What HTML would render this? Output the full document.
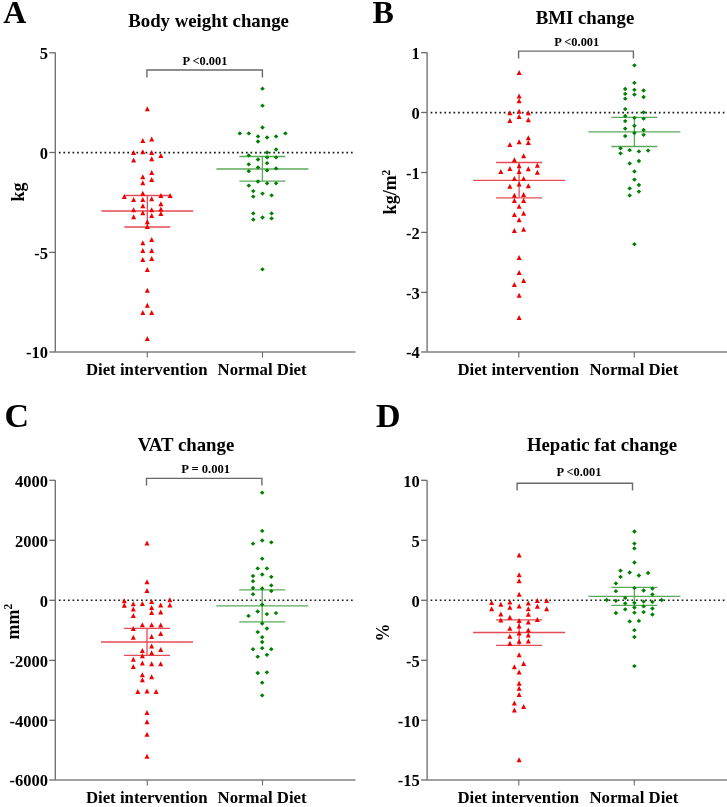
<!DOCTYPE html>
<html><head><meta charset="utf-8"><style>
html,body{margin:0;padding:0;background:#fff;}
svg{display:block;will-change:transform;}
text{font-family:"Liberation Serif", serif;font-weight:bold;fill:#000;}
</style></head><body>
<svg width="727" height="807" viewBox="0 0 727 807">
<rect width="727" height="807" fill="#fff"/>
<text x="3.2" y="23" font-size="32" text-anchor="start" >A</text>
<text x="208.6" y="26.7" font-size="18.8" text-anchor="middle" >Body weight change</text>
<line x1="55.3" y1="52.5" x2="55.3" y2="352" stroke="#6a6a6a" stroke-width="1.3"/>
<line x1="49.3" y1="52.8" x2="55.3" y2="52.8" stroke="#6a6a6a" stroke-width="1.3"/>
<text x="47.9" y="59.099999999999994" font-size="16.5" text-anchor="end" >5</text>
<line x1="49.3" y1="152.5" x2="55.3" y2="152.5" stroke="#6a6a6a" stroke-width="1.3"/>
<text x="47.9" y="158.8" font-size="16.5" text-anchor="end" >0</text>
<line x1="49.3" y1="252.4" x2="55.3" y2="252.4" stroke="#6a6a6a" stroke-width="1.3"/>
<text x="47.9" y="258.7" font-size="16.5" text-anchor="end" >-5</text>
<line x1="49.3" y1="352" x2="55.3" y2="352" stroke="#6a6a6a" stroke-width="1.3"/>
<text x="47.9" y="358.3" font-size="16.5" text-anchor="end" >-10</text>
<line x1="54.699999999999996" y1="352" x2="355.5" y2="352" stroke="#808080" stroke-width="1.5"/>
<line x1="147.3" y1="352" x2="147.3" y2="357.5" stroke="#6a6a6a" stroke-width="1.1"/>
<line x1="262.5" y1="352" x2="262.5" y2="357.5" stroke="#6a6a6a" stroke-width="1.1"/>
<text x="146.70000000000002" y="375" font-size="16.8" text-anchor="middle" >Diet intervention</text>
<text x="262.1" y="375" font-size="16.8" text-anchor="middle" >Normal Diet</text>
<line x1="58.849999999999994" y1="152.6" x2="355.5" y2="152.6" stroke="#1a1a1a" stroke-width="1.6" stroke-dasharray="1.7 2.864"/>
<text transform="translate(23.6,192) rotate(-90)" font-size="18" text-anchor="middle">kg</text>
<path d="M146.9 77.6 V69.95 H262.4 V77.6" fill="none" stroke="#6a6a6a" stroke-width="1.4"/>
<text x="204.95" y="65.2" font-size="12.4" text-anchor="middle" >P &lt;0.001</text>
<g stroke="#e44b55" stroke-width="1.3" fill="none"><line x1="101.30000000000001" y1="211.0" x2="193.3" y2="211.0"/><line x1="124.30000000000001" y1="195.5" x2="170.3" y2="195.5"/><line x1="124.30000000000001" y1="227.0" x2="170.3" y2="227.0"/><line x1="147.3" y1="195.5" x2="147.3" y2="227.0"/></g>
<g stroke="#5aaa5a" stroke-width="1.3" fill="none"><line x1="216.39999999999998" y1="169.0" x2="308.4" y2="169.0"/><line x1="239.39999999999998" y1="156.5" x2="285.4" y2="156.5"/><line x1="239.39999999999998" y1="181.1" x2="285.4" y2="181.1"/><line x1="262.4" y1="156.5" x2="262.4" y2="181.1"/></g>
<path d="M144.80 111.30h5l-2.5-5z" fill="#f00000"/>
<path d="M140.30 143.10h5l-2.5-5z" fill="#f00000"/>
<path d="M149.20 141.50h5l-2.5-5z" fill="#f00000"/>
<path d="M131.10 155.10h5l-2.5-5z" fill="#f00000"/>
<path d="M140.30 154.30h5l-2.5-5z" fill="#f00000"/>
<path d="M149.20 155.10h5l-2.5-5z" fill="#f00000"/>
<path d="M158.40 158.10h5l-2.5-5z" fill="#f00000"/>
<path d="M131.10 162.40h5l-2.5-5z" fill="#f00000"/>
<path d="M149.20 161.30h5l-2.5-5z" fill="#f00000"/>
<path d="M149.20 175.00h5l-2.5-5z" fill="#f00000"/>
<path d="M140.30 179.20h5l-2.5-5z" fill="#f00000"/>
<path d="M149.20 181.90h5l-2.5-5z" fill="#f00000"/>
<path d="M140.30 185.20h5l-2.5-5z" fill="#f00000"/>
<path d="M140.30 195.70h5l-2.5-5z" fill="#f00000"/>
<path d="M121.80 199.10h5l-2.5-5z" fill="#f00000"/>
<path d="M158.40 197.90h5l-2.5-5z" fill="#f00000"/>
<path d="M167.70 198.00h5l-2.5-5z" fill="#f00000"/>
<path d="M131.10 202.10h5l-2.5-5z" fill="#f00000"/>
<path d="M140.30 202.10h5l-2.5-5z" fill="#f00000"/>
<path d="M149.20 201.20h5l-2.5-5z" fill="#f00000"/>
<path d="M158.40 206.20h5l-2.5-5z" fill="#f00000"/>
<path d="M140.30 208.30h5l-2.5-5z" fill="#f00000"/>
<path d="M131.10 212.20h5l-2.5-5z" fill="#f00000"/>
<path d="M149.20 212.20h5l-2.5-5z" fill="#f00000"/>
<path d="M158.40 211.50h5l-2.5-5z" fill="#f00000"/>
<path d="M140.30 215.20h5l-2.5-5z" fill="#f00000"/>
<path d="M158.40 216.00h5l-2.5-5z" fill="#f00000"/>
<path d="M131.10 219.30h5l-2.5-5z" fill="#f00000"/>
<path d="M149.20 217.90h5l-2.5-5z" fill="#f00000"/>
<path d="M144.80 224.30h5l-2.5-5z" fill="#f00000"/>
<path d="M144.80 228.90h5l-2.5-5z" fill="#f00000"/>
<path d="M149.20 242.10h5l-2.5-5z" fill="#f00000"/>
<path d="M140.30 245.20h5l-2.5-5z" fill="#f00000"/>
<path d="M140.30 253.10h5l-2.5-5z" fill="#f00000"/>
<path d="M149.20 253.10h5l-2.5-5z" fill="#f00000"/>
<path d="M140.30 262.00h5l-2.5-5z" fill="#f00000"/>
<path d="M149.20 261.00h5l-2.5-5z" fill="#f00000"/>
<path d="M144.80 272.10h5l-2.5-5z" fill="#f00000"/>
<path d="M144.80 292.80h5l-2.5-5z" fill="#f00000"/>
<path d="M144.80 307.70h5l-2.5-5z" fill="#f00000"/>
<path d="M140.30 315.10h5l-2.5-5z" fill="#f00000"/>
<path d="M149.20 315.10h5l-2.5-5z" fill="#f00000"/>
<path d="M144.80 341.00h5l-2.5-5z" fill="#f00000"/>
<path d="M262.50 86.55l2.3 2.15l-2.3 2.15l-2.3-2.15z" fill="#007f00"/>
<path d="M262.50 103.55l2.3 2.15l-2.3 2.15l-2.3-2.15z" fill="#007f00"/>
<path d="M262.50 125.35l2.3 2.15l-2.3 2.15l-2.3-2.15z" fill="#007f00"/>
<path d="M239.80 131.25l2.3 2.15l-2.3 2.15l-2.3-2.15z" fill="#007f00"/>
<path d="M248.80 131.25l2.3 2.15l-2.3 2.15l-2.3-2.15z" fill="#007f00"/>
<path d="M285.40 131.25l2.3 2.15l-2.3 2.15l-2.3-2.15z" fill="#007f00"/>
<path d="M258.00 134.25l2.3 2.15l-2.3 2.15l-2.3-2.15z" fill="#007f00"/>
<path d="M267.10 135.35l2.3 2.15l-2.3 2.15l-2.3-2.15z" fill="#007f00"/>
<path d="M276.10 134.25l2.3 2.15l-2.3 2.15l-2.3-2.15z" fill="#007f00"/>
<path d="M258.00 139.35l2.3 2.15l-2.3 2.15l-2.3-2.15z" fill="#007f00"/>
<path d="M276.10 147.35l2.3 2.15l-2.3 2.15l-2.3-2.15z" fill="#007f00"/>
<path d="M267.10 150.35l2.3 2.15l-2.3 2.15l-2.3-2.15z" fill="#007f00"/>
<path d="M248.80 153.25l2.3 2.15l-2.3 2.15l-2.3-2.15z" fill="#007f00"/>
<path d="M267.10 155.25l2.3 2.15l-2.3 2.15l-2.3-2.15z" fill="#007f00"/>
<path d="M276.10 155.25l2.3 2.15l-2.3 2.15l-2.3-2.15z" fill="#007f00"/>
<path d="M258.00 157.35l2.3 2.15l-2.3 2.15l-2.3-2.15z" fill="#007f00"/>
<path d="M248.80 162.15l2.3 2.15l-2.3 2.15l-2.3-2.15z" fill="#007f00"/>
<path d="M267.10 161.05l2.3 2.15l-2.3 2.15l-2.3-2.15z" fill="#007f00"/>
<path d="M258.00 165.25l2.3 2.15l-2.3 2.15l-2.3-2.15z" fill="#007f00"/>
<path d="M276.10 166.25l2.3 2.15l-2.3 2.15l-2.3-2.15z" fill="#007f00"/>
<path d="M248.80 169.05l2.3 2.15l-2.3 2.15l-2.3-2.15z" fill="#007f00"/>
<path d="M267.10 168.25l2.3 2.15l-2.3 2.15l-2.3-2.15z" fill="#007f00"/>
<path d="M258.00 179.35l2.3 2.15l-2.3 2.15l-2.3-2.15z" fill="#007f00"/>
<path d="M248.80 183.45l2.3 2.15l-2.3 2.15l-2.3-2.15z" fill="#007f00"/>
<path d="M267.10 181.15l2.3 2.15l-2.3 2.15l-2.3-2.15z" fill="#007f00"/>
<path d="M276.10 181.15l2.3 2.15l-2.3 2.15l-2.3-2.15z" fill="#007f00"/>
<path d="M253.30 188.95l2.3 2.15l-2.3 2.15l-2.3-2.15z" fill="#007f00"/>
<path d="M262.50 191.45l2.3 2.15l-2.3 2.15l-2.3-2.15z" fill="#007f00"/>
<path d="M253.30 194.45l2.3 2.15l-2.3 2.15l-2.3-2.15z" fill="#007f00"/>
<path d="M271.60 193.15l2.3 2.15l-2.3 2.15l-2.3-2.15z" fill="#007f00"/>
<path d="M253.30 211.25l2.3 2.15l-2.3 2.15l-2.3-2.15z" fill="#007f00"/>
<path d="M271.60 211.25l2.3 2.15l-2.3 2.15l-2.3-2.15z" fill="#007f00"/>
<path d="M262.50 215.35l2.3 2.15l-2.3 2.15l-2.3-2.15z" fill="#007f00"/>
<path d="M253.30 217.45l2.3 2.15l-2.3 2.15l-2.3-2.15z" fill="#007f00"/>
<path d="M271.60 216.25l2.3 2.15l-2.3 2.15l-2.3-2.15z" fill="#007f00"/>
<path d="M262.50 267.15l2.3 2.15l-2.3 2.15l-2.3-2.15z" fill="#007f00"/>
<text x="372.5" y="23" font-size="32" text-anchor="start" >B</text>
<text x="585" y="24.3" font-size="18.8" text-anchor="middle" >BMI change</text>
<line x1="427.1" y1="52.5" x2="427.1" y2="352" stroke="#6a6a6a" stroke-width="1.3"/>
<line x1="421.1" y1="52.7" x2="427.1" y2="52.7" stroke="#6a6a6a" stroke-width="1.3"/>
<text x="419.70000000000005" y="59.0" font-size="16.5" text-anchor="end" >1</text>
<line x1="421.1" y1="112.5" x2="427.1" y2="112.5" stroke="#6a6a6a" stroke-width="1.3"/>
<text x="419.70000000000005" y="118.8" font-size="16.5" text-anchor="end" >0</text>
<line x1="421.1" y1="172.5" x2="427.1" y2="172.5" stroke="#6a6a6a" stroke-width="1.3"/>
<text x="419.70000000000005" y="178.8" font-size="16.5" text-anchor="end" >-1</text>
<line x1="421.1" y1="232.4" x2="427.1" y2="232.4" stroke="#6a6a6a" stroke-width="1.3"/>
<text x="419.70000000000005" y="238.70000000000002" font-size="16.5" text-anchor="end" >-2</text>
<line x1="421.1" y1="292.4" x2="427.1" y2="292.4" stroke="#6a6a6a" stroke-width="1.3"/>
<text x="419.70000000000005" y="298.7" font-size="16.5" text-anchor="end" >-3</text>
<line x1="421.1" y1="352" x2="427.1" y2="352" stroke="#6a6a6a" stroke-width="1.3"/>
<text x="419.70000000000005" y="358.3" font-size="16.5" text-anchor="end" >-4</text>
<line x1="426.5" y1="352" x2="727" y2="352" stroke="#808080" stroke-width="1.5"/>
<line x1="518.8" y1="352" x2="518.8" y2="357.5" stroke="#6a6a6a" stroke-width="1.1"/>
<line x1="634.3" y1="352" x2="634.3" y2="357.5" stroke="#6a6a6a" stroke-width="1.1"/>
<text x="518.1999999999999" y="375" font-size="16.8" text-anchor="middle" >Diet intervention</text>
<text x="633.9" y="375" font-size="16.8" text-anchor="middle" >Normal Diet</text>
<line x1="430.65000000000003" y1="112.6" x2="727" y2="112.6" stroke="#1a1a1a" stroke-width="1.6" stroke-dasharray="1.7 2.864"/>
<text transform="translate(396.3,192) rotate(-90)" font-size="18" text-anchor="middle">kg/m<tspan font-size="11.5" dy="-6.6">2</tspan></text>
<path d="M518.6 58.6 V51.1 H633.4 V58.6" fill="none" stroke="#6a6a6a" stroke-width="1.4"/>
<text x="576.8" y="46.1" font-size="12.4" text-anchor="middle" >P &lt;0.001</text>
<g stroke="#e44b55" stroke-width="1.3" fill="none"><line x1="473.1" y1="180.4" x2="565.1" y2="180.4"/><line x1="496.1" y1="162.5" x2="542.1" y2="162.5"/><line x1="496.1" y1="197.8" x2="542.1" y2="197.8"/><line x1="519.1" y1="162.5" x2="519.1" y2="197.8"/></g>
<g stroke="#5aaa5a" stroke-width="1.3" fill="none"><line x1="588.4" y1="131.9" x2="680.4" y2="131.9"/><line x1="611.4" y1="117.4" x2="657.4" y2="117.4"/><line x1="611.4" y1="146.5" x2="657.4" y2="146.5"/><line x1="634.4" y1="117.4" x2="634.4" y2="146.5"/></g>
<path d="M516.60 75.00h5l-2.5-5z" fill="#f00000"/>
<path d="M516.60 98.40h5l-2.5-5z" fill="#f00000"/>
<path d="M516.60 103.20h5l-2.5-5z" fill="#f00000"/>
<path d="M507.40 115.20h5l-2.5-5z" fill="#f00000"/>
<path d="M516.60 113.80h5l-2.5-5z" fill="#f00000"/>
<path d="M525.80 115.20h5l-2.5-5z" fill="#f00000"/>
<path d="M516.60 119.00h5l-2.5-5z" fill="#f00000"/>
<path d="M507.40 123.00h5l-2.5-5z" fill="#f00000"/>
<path d="M525.80 122.30h5l-2.5-5z" fill="#f00000"/>
<path d="M525.80 140.20h5l-2.5-5z" fill="#f00000"/>
<path d="M516.60 144.30h5l-2.5-5z" fill="#f00000"/>
<path d="M525.80 145.00h5l-2.5-5z" fill="#f00000"/>
<path d="M507.40 147.10h5l-2.5-5z" fill="#f00000"/>
<path d="M521.10 158.20h5l-2.5-5z" fill="#f00000"/>
<path d="M511.90 162.30h5l-2.5-5z" fill="#f00000"/>
<path d="M534.90 167.80h5l-2.5-5z" fill="#f00000"/>
<path d="M516.60 168.30h5l-2.5-5z" fill="#f00000"/>
<path d="M507.40 170.90h5l-2.5-5z" fill="#f00000"/>
<path d="M525.80 171.30h5l-2.5-5z" fill="#f00000"/>
<path d="M498.30 174.00h5l-2.5-5z" fill="#f00000"/>
<path d="M516.60 174.00h5l-2.5-5z" fill="#f00000"/>
<path d="M534.90 174.70h5l-2.5-5z" fill="#f00000"/>
<path d="M511.90 180.90h5l-2.5-5z" fill="#f00000"/>
<path d="M521.10 180.90h5l-2.5-5z" fill="#f00000"/>
<path d="M516.60 186.40h5l-2.5-5z" fill="#f00000"/>
<path d="M507.40 188.80h5l-2.5-5z" fill="#f00000"/>
<path d="M525.80 188.20h5l-2.5-5z" fill="#f00000"/>
<path d="M511.90 197.80h5l-2.5-5z" fill="#f00000"/>
<path d="M521.10 197.10h5l-2.5-5z" fill="#f00000"/>
<path d="M511.90 202.90h5l-2.5-5z" fill="#f00000"/>
<path d="M521.10 202.90h5l-2.5-5z" fill="#f00000"/>
<path d="M516.60 208.80h5l-2.5-5z" fill="#f00000"/>
<path d="M511.90 217.00h5l-2.5-5z" fill="#f00000"/>
<path d="M521.10 215.70h5l-2.5-5z" fill="#f00000"/>
<path d="M516.60 222.20h5l-2.5-5z" fill="#f00000"/>
<path d="M511.90 232.90h5l-2.5-5z" fill="#f00000"/>
<path d="M521.10 231.80h5l-2.5-5z" fill="#f00000"/>
<path d="M516.60 260.00h5l-2.5-5z" fill="#f00000"/>
<path d="M516.60 274.90h5l-2.5-5z" fill="#f00000"/>
<path d="M521.10 283.10h5l-2.5-5z" fill="#f00000"/>
<path d="M511.90 287.00h5l-2.5-5z" fill="#f00000"/>
<path d="M516.60 297.80h5l-2.5-5z" fill="#f00000"/>
<path d="M516.60 320.00h5l-2.5-5z" fill="#f00000"/>
<path d="M634.40 63.15l2.3 2.15l-2.3 2.15l-2.3-2.15z" fill="#007f00"/>
<path d="M634.40 80.65l2.3 2.15l-2.3 2.15l-2.3-2.15z" fill="#007f00"/>
<path d="M625.20 86.85l2.3 2.15l-2.3 2.15l-2.3-2.15z" fill="#007f00"/>
<path d="M634.40 87.65l2.3 2.15l-2.3 2.15l-2.3-2.15z" fill="#007f00"/>
<path d="M643.60 88.35l2.3 2.15l-2.3 2.15l-2.3-2.15z" fill="#007f00"/>
<path d="M625.20 91.75l2.3 2.15l-2.3 2.15l-2.3-2.15z" fill="#007f00"/>
<path d="M634.40 92.45l2.3 2.15l-2.3 2.15l-2.3-2.15z" fill="#007f00"/>
<path d="M643.60 94.85l2.3 2.15l-2.3 2.15l-2.3-2.15z" fill="#007f00"/>
<path d="M625.20 96.55l2.3 2.15l-2.3 2.15l-2.3-2.15z" fill="#007f00"/>
<path d="M625.20 106.95l2.3 2.15l-2.3 2.15l-2.3-2.15z" fill="#007f00"/>
<path d="M643.60 110.15l2.3 2.15l-2.3 2.15l-2.3-2.15z" fill="#007f00"/>
<path d="M625.20 113.75l2.3 2.15l-2.3 2.15l-2.3-2.15z" fill="#007f00"/>
<path d="M634.40 115.65l2.3 2.15l-2.3 2.15l-2.3-2.15z" fill="#007f00"/>
<path d="M643.60 116.55l2.3 2.15l-2.3 2.15l-2.3-2.15z" fill="#007f00"/>
<path d="M625.20 118.95l2.3 2.15l-2.3 2.15l-2.3-2.15z" fill="#007f00"/>
<path d="M634.40 123.65l2.3 2.15l-2.3 2.15l-2.3-2.15z" fill="#007f00"/>
<path d="M625.20 126.45l2.3 2.15l-2.3 2.15l-2.3-2.15z" fill="#007f00"/>
<path d="M643.60 127.85l2.3 2.15l-2.3 2.15l-2.3-2.15z" fill="#007f00"/>
<path d="M634.40 130.85l2.3 2.15l-2.3 2.15l-2.3-2.15z" fill="#007f00"/>
<path d="M643.60 132.65l2.3 2.15l-2.3 2.15l-2.3-2.15z" fill="#007f00"/>
<path d="M625.20 133.95l2.3 2.15l-2.3 2.15l-2.3-2.15z" fill="#007f00"/>
<path d="M620.50 146.15l2.3 2.15l-2.3 2.15l-2.3-2.15z" fill="#007f00"/>
<path d="M629.70 148.05l2.3 2.15l-2.3 2.15l-2.3-2.15z" fill="#007f00"/>
<path d="M638.90 149.25l2.3 2.15l-2.3 2.15l-2.3-2.15z" fill="#007f00"/>
<path d="M648.10 148.45l2.3 2.15l-2.3 2.15l-2.3-2.15z" fill="#007f00"/>
<path d="M620.50 151.15l2.3 2.15l-2.3 2.15l-2.3-2.15z" fill="#007f00"/>
<path d="M638.90 158.85l2.3 2.15l-2.3 2.15l-2.3-2.15z" fill="#007f00"/>
<path d="M629.70 161.25l2.3 2.15l-2.3 2.15l-2.3-2.15z" fill="#007f00"/>
<path d="M634.40 169.25l2.3 2.15l-2.3 2.15l-2.3-2.15z" fill="#007f00"/>
<path d="M634.40 177.45l2.3 2.15l-2.3 2.15l-2.3-2.15z" fill="#007f00"/>
<path d="M638.90 182.85l2.3 2.15l-2.3 2.15l-2.3-2.15z" fill="#007f00"/>
<path d="M629.70 186.25l2.3 2.15l-2.3 2.15l-2.3-2.15z" fill="#007f00"/>
<path d="M638.90 189.45l2.3 2.15l-2.3 2.15l-2.3-2.15z" fill="#007f00"/>
<path d="M629.70 193.25l2.3 2.15l-2.3 2.15l-2.3-2.15z" fill="#007f00"/>
<path d="M634.40 242.05l2.3 2.15l-2.3 2.15l-2.3-2.15z" fill="#007f00"/>
<text x="4.5" y="427" font-size="34" text-anchor="start" >C</text>
<text x="186" y="450.8" font-size="18.8" text-anchor="middle" >VAT change</text>
<line x1="55.3" y1="480.3" x2="55.3" y2="780" stroke="#6a6a6a" stroke-width="1.3"/>
<line x1="49.3" y1="480.3" x2="55.3" y2="480.3" stroke="#6a6a6a" stroke-width="1.3"/>
<text x="47.9" y="486.6" font-size="16.5" text-anchor="end" >4000</text>
<line x1="49.3" y1="540.3" x2="55.3" y2="540.3" stroke="#6a6a6a" stroke-width="1.3"/>
<text x="47.9" y="546.5999999999999" font-size="16.5" text-anchor="end" >2000</text>
<line x1="49.3" y1="600.3" x2="55.3" y2="600.3" stroke="#6a6a6a" stroke-width="1.3"/>
<text x="47.9" y="606.5999999999999" font-size="16.5" text-anchor="end" >0</text>
<line x1="49.3" y1="660.4" x2="55.3" y2="660.4" stroke="#6a6a6a" stroke-width="1.3"/>
<text x="47.9" y="666.6999999999999" font-size="16.5" text-anchor="end" >-2000</text>
<line x1="49.3" y1="720.3" x2="55.3" y2="720.3" stroke="#6a6a6a" stroke-width="1.3"/>
<text x="47.9" y="726.5999999999999" font-size="16.5" text-anchor="end" >-4000</text>
<line x1="49.3" y1="780" x2="55.3" y2="780" stroke="#6a6a6a" stroke-width="1.3"/>
<text x="47.9" y="786.3" font-size="16.5" text-anchor="end" >-6000</text>
<line x1="54.699999999999996" y1="780" x2="355.5" y2="780" stroke="#808080" stroke-width="1.5"/>
<line x1="147.3" y1="780" x2="147.3" y2="785.5" stroke="#6a6a6a" stroke-width="1.1"/>
<line x1="262.5" y1="780" x2="262.5" y2="785.5" stroke="#6a6a6a" stroke-width="1.1"/>
<text x="146.70000000000002" y="803" font-size="16.8" text-anchor="middle" >Diet intervention</text>
<text x="262.1" y="803" font-size="16.8" text-anchor="middle" >Normal Diet</text>
<line x1="58.849999999999994" y1="600.3" x2="355.5" y2="600.3" stroke="#1a1a1a" stroke-width="1.6" stroke-dasharray="1.7 2.864"/>
<text transform="translate(18.8,621.7) rotate(-90)" font-size="18" text-anchor="middle">mm<tspan font-size="11.5" dy="-6.6">2</tspan></text>
<path d="M146.5 485.6 V478.4 H261.9 V485.6" fill="none" stroke="#6a6a6a" stroke-width="1.4"/>
<text x="205.7" y="473.2" font-size="12.6" text-anchor="middle" >P = 0.001</text>
<g stroke="#e44b55" stroke-width="1.3" fill="none"><line x1="101.0" y1="642.0" x2="193.0" y2="642.0"/><line x1="124.0" y1="628.4" x2="170.0" y2="628.4"/><line x1="124.0" y1="655.4" x2="170.0" y2="655.4"/><line x1="147.0" y1="628.4" x2="147.0" y2="655.4"/></g>
<g stroke="#5aaa5a" stroke-width="1.3" fill="none"><line x1="216.2" y1="605.9" x2="308.2" y2="605.9"/><line x1="239.2" y1="589.9" x2="285.2" y2="589.9"/><line x1="239.2" y1="621.8" x2="285.2" y2="621.8"/><line x1="262.2" y1="589.9" x2="262.2" y2="621.8"/></g>
<path d="M144.50 545.50h5l-2.5-5z" fill="#f00000"/>
<path d="M144.50 584.30h5l-2.5-5z" fill="#f00000"/>
<path d="M144.50 592.90h5l-2.5-5z" fill="#f00000"/>
<path d="M121.80 603.20h5l-2.5-5z" fill="#f00000"/>
<path d="M149.10 603.90h5l-2.5-5z" fill="#f00000"/>
<path d="M167.40 602.30h5l-2.5-5z" fill="#f00000"/>
<path d="M121.80 607.80h5l-2.5-5z" fill="#f00000"/>
<path d="M130.80 606.30h5l-2.5-5z" fill="#f00000"/>
<path d="M139.90 606.00h5l-2.5-5z" fill="#f00000"/>
<path d="M158.20 607.40h5l-2.5-5z" fill="#f00000"/>
<path d="M167.40 607.40h5l-2.5-5z" fill="#f00000"/>
<path d="M149.10 610.10h5l-2.5-5z" fill="#f00000"/>
<path d="M130.80 611.50h5l-2.5-5z" fill="#f00000"/>
<path d="M149.10 614.90h5l-2.5-5z" fill="#f00000"/>
<path d="M158.20 614.50h5l-2.5-5z" fill="#f00000"/>
<path d="M130.80 617.90h5l-2.5-5z" fill="#f00000"/>
<path d="M139.90 627.30h5l-2.5-5z" fill="#f00000"/>
<path d="M149.10 627.30h5l-2.5-5z" fill="#f00000"/>
<path d="M158.20 627.60h5l-2.5-5z" fill="#f00000"/>
<path d="M130.80 631.10h5l-2.5-5z" fill="#f00000"/>
<path d="M158.20 636.00h5l-2.5-5z" fill="#f00000"/>
<path d="M130.80 639.70h5l-2.5-5z" fill="#f00000"/>
<path d="M149.10 639.00h5l-2.5-5z" fill="#f00000"/>
<path d="M149.10 648.40h5l-2.5-5z" fill="#f00000"/>
<path d="M139.90 652.90h5l-2.5-5z" fill="#f00000"/>
<path d="M158.20 652.10h5l-2.5-5z" fill="#f00000"/>
<path d="M149.10 655.20h5l-2.5-5z" fill="#f00000"/>
<path d="M139.90 658.30h5l-2.5-5z" fill="#f00000"/>
<path d="M130.80 661.70h5l-2.5-5z" fill="#f00000"/>
<path d="M139.90 665.50h5l-2.5-5z" fill="#f00000"/>
<path d="M149.10 666.20h5l-2.5-5z" fill="#f00000"/>
<path d="M158.20 666.20h5l-2.5-5z" fill="#f00000"/>
<path d="M130.80 669.00h5l-2.5-5z" fill="#f00000"/>
<path d="M139.90 677.20h5l-2.5-5z" fill="#f00000"/>
<path d="M149.10 679.30h5l-2.5-5z" fill="#f00000"/>
<path d="M139.90 682.30h5l-2.5-5z" fill="#f00000"/>
<path d="M135.30 694.00h5l-2.5-5z" fill="#f00000"/>
<path d="M144.50 693.50h5l-2.5-5z" fill="#f00000"/>
<path d="M153.60 694.00h5l-2.5-5z" fill="#f00000"/>
<path d="M144.50 714.90h5l-2.5-5z" fill="#f00000"/>
<path d="M144.50 724.30h5l-2.5-5z" fill="#f00000"/>
<path d="M144.50 736.80h5l-2.5-5z" fill="#f00000"/>
<path d="M144.50 758.70h5l-2.5-5z" fill="#f00000"/>
<path d="M262.20 490.55l2.3 2.15l-2.3 2.15l-2.3-2.15z" fill="#007f00"/>
<path d="M262.20 528.75l2.3 2.15l-2.3 2.15l-2.3-2.15z" fill="#007f00"/>
<path d="M262.20 538.35l2.3 2.15l-2.3 2.15l-2.3-2.15z" fill="#007f00"/>
<path d="M253.00 541.55l2.3 2.15l-2.3 2.15l-2.3-2.15z" fill="#007f00"/>
<path d="M271.30 540.15l2.3 2.15l-2.3 2.15l-2.3-2.15z" fill="#007f00"/>
<path d="M262.20 556.55l2.3 2.15l-2.3 2.15l-2.3-2.15z" fill="#007f00"/>
<path d="M257.70 566.25l2.3 2.15l-2.3 2.15l-2.3-2.15z" fill="#007f00"/>
<path d="M266.90 566.25l2.3 2.15l-2.3 2.15l-2.3-2.15z" fill="#007f00"/>
<path d="M253.00 573.85l2.3 2.15l-2.3 2.15l-2.3-2.15z" fill="#007f00"/>
<path d="M262.20 572.35l2.3 2.15l-2.3 2.15l-2.3-2.15z" fill="#007f00"/>
<path d="M271.30 574.65l2.3 2.15l-2.3 2.15l-2.3-2.15z" fill="#007f00"/>
<path d="M253.00 579.05l2.3 2.15l-2.3 2.15l-2.3-2.15z" fill="#007f00"/>
<path d="M271.30 583.25l2.3 2.15l-2.3 2.15l-2.3-2.15z" fill="#007f00"/>
<path d="M253.00 585.85l2.3 2.15l-2.3 2.15l-2.3-2.15z" fill="#007f00"/>
<path d="M262.20 586.25l2.3 2.15l-2.3 2.15l-2.3-2.15z" fill="#007f00"/>
<path d="M271.30 588.95l2.3 2.15l-2.3 2.15l-2.3-2.15z" fill="#007f00"/>
<path d="M253.00 592.05l2.3 2.15l-2.3 2.15l-2.3-2.15z" fill="#007f00"/>
<path d="M262.20 602.45l2.3 2.15l-2.3 2.15l-2.3-2.15z" fill="#007f00"/>
<path d="M257.70 609.35l2.3 2.15l-2.3 2.15l-2.3-2.15z" fill="#007f00"/>
<path d="M266.90 611.95l2.3 2.15l-2.3 2.15l-2.3-2.15z" fill="#007f00"/>
<path d="M276.00 610.95l2.3 2.15l-2.3 2.15l-2.3-2.15z" fill="#007f00"/>
<path d="M248.50 613.75l2.3 2.15l-2.3 2.15l-2.3-2.15z" fill="#007f00"/>
<path d="M262.20 621.35l2.3 2.15l-2.3 2.15l-2.3-2.15z" fill="#007f00"/>
<path d="M266.90 626.35l2.3 2.15l-2.3 2.15l-2.3-2.15z" fill="#007f00"/>
<path d="M257.70 629.95l2.3 2.15l-2.3 2.15l-2.3-2.15z" fill="#007f00"/>
<path d="M262.20 635.05l2.3 2.15l-2.3 2.15l-2.3-2.15z" fill="#007f00"/>
<path d="M262.20 639.85l2.3 2.15l-2.3 2.15l-2.3-2.15z" fill="#007f00"/>
<path d="M253.00 647.05l2.3 2.15l-2.3 2.15l-2.3-2.15z" fill="#007f00"/>
<path d="M262.20 646.05l2.3 2.15l-2.3 2.15l-2.3-2.15z" fill="#007f00"/>
<path d="M271.30 647.05l2.3 2.15l-2.3 2.15l-2.3-2.15z" fill="#007f00"/>
<path d="M257.70 654.55l2.3 2.15l-2.3 2.15l-2.3-2.15z" fill="#007f00"/>
<path d="M266.90 652.65l2.3 2.15l-2.3 2.15l-2.3-2.15z" fill="#007f00"/>
<path d="M257.70 670.85l2.3 2.15l-2.3 2.15l-2.3-2.15z" fill="#007f00"/>
<path d="M266.90 670.15l2.3 2.15l-2.3 2.15l-2.3-2.15z" fill="#007f00"/>
<path d="M262.20 680.55l2.3 2.15l-2.3 2.15l-2.3-2.15z" fill="#007f00"/>
<path d="M262.20 693.25l2.3 2.15l-2.3 2.15l-2.3-2.15z" fill="#007f00"/>
<text x="376" y="427" font-size="34" text-anchor="start" >D</text>
<text x="602" y="451.3" font-size="18.8" text-anchor="middle" >Hepatic fat change</text>
<line x1="427.1" y1="480.3" x2="427.1" y2="780" stroke="#6a6a6a" stroke-width="1.3"/>
<line x1="421.1" y1="480.3" x2="427.1" y2="480.3" stroke="#6a6a6a" stroke-width="1.3"/>
<text x="419.70000000000005" y="486.6" font-size="16.5" text-anchor="end" >10</text>
<line x1="421.1" y1="540.3" x2="427.1" y2="540.3" stroke="#6a6a6a" stroke-width="1.3"/>
<text x="419.70000000000005" y="546.5999999999999" font-size="16.5" text-anchor="end" >5</text>
<line x1="421.1" y1="600.3" x2="427.1" y2="600.3" stroke="#6a6a6a" stroke-width="1.3"/>
<text x="419.70000000000005" y="606.5999999999999" font-size="16.5" text-anchor="end" >0</text>
<line x1="421.1" y1="660.3" x2="427.1" y2="660.3" stroke="#6a6a6a" stroke-width="1.3"/>
<text x="419.70000000000005" y="666.5999999999999" font-size="16.5" text-anchor="end" >-5</text>
<line x1="421.1" y1="720.3" x2="427.1" y2="720.3" stroke="#6a6a6a" stroke-width="1.3"/>
<text x="419.70000000000005" y="726.5999999999999" font-size="16.5" text-anchor="end" >-10</text>
<line x1="421.1" y1="780" x2="427.1" y2="780" stroke="#6a6a6a" stroke-width="1.3"/>
<text x="419.70000000000005" y="786.3" font-size="16.5" text-anchor="end" >-15</text>
<line x1="426.5" y1="780" x2="727" y2="780" stroke="#808080" stroke-width="1.5"/>
<line x1="518.8" y1="780" x2="518.8" y2="785.5" stroke="#6a6a6a" stroke-width="1.1"/>
<line x1="634.3" y1="780" x2="634.3" y2="785.5" stroke="#6a6a6a" stroke-width="1.1"/>
<text x="518.1999999999999" y="803" font-size="16.8" text-anchor="middle" >Diet intervention</text>
<text x="633.9" y="803" font-size="16.8" text-anchor="middle" >Normal Diet</text>
<line x1="430.65000000000003" y1="600.3" x2="727" y2="600.3" stroke="#1a1a1a" stroke-width="1.6" stroke-dasharray="1.7 2.864"/>
<text transform="translate(389,632.5) rotate(-90)" font-size="18" text-anchor="middle">%</text>
<path d="M517.1 490.6 V483.3 H632.5 V490.6" fill="none" stroke="#6a6a6a" stroke-width="1.4"/>
<text x="578.9" y="475.5" font-size="12.4" text-anchor="middle" >P &lt;0.001</text>
<g stroke="#e44b55" stroke-width="1.3" fill="none"><line x1="473.1" y1="632.5" x2="565.1" y2="632.5"/><line x1="496.1" y1="619.9" x2="542.1" y2="619.9"/><line x1="496.1" y1="645.3" x2="542.1" y2="645.3"/><line x1="519.1" y1="619.9" x2="519.1" y2="645.3"/></g>
<g stroke="#5aaa5a" stroke-width="1.3" fill="none"><line x1="588.4" y1="596.3" x2="680.4" y2="596.3"/><line x1="611.4" y1="587.3" x2="657.4" y2="587.3"/><line x1="611.4" y1="605.3" x2="657.4" y2="605.3"/><line x1="634.4" y1="587.3" x2="634.4" y2="605.3"/></g>
<path d="M516.60 557.50h5l-2.5-5z" fill="#f00000"/>
<path d="M516.60 577.20h5l-2.5-5z" fill="#f00000"/>
<path d="M516.60 583.30h5l-2.5-5z" fill="#f00000"/>
<path d="M516.60 596.70h5l-2.5-5z" fill="#f00000"/>
<path d="M489.10 605.00h5l-2.5-5z" fill="#f00000"/>
<path d="M498.30 606.80h5l-2.5-5z" fill="#f00000"/>
<path d="M507.40 604.60h5l-2.5-5z" fill="#f00000"/>
<path d="M525.80 605.40h5l-2.5-5z" fill="#f00000"/>
<path d="M534.90 602.90h5l-2.5-5z" fill="#f00000"/>
<path d="M544.10 602.90h5l-2.5-5z" fill="#f00000"/>
<path d="M489.10 611.20h5l-2.5-5z" fill="#f00000"/>
<path d="M507.40 609.80h5l-2.5-5z" fill="#f00000"/>
<path d="M516.60 608.40h5l-2.5-5z" fill="#f00000"/>
<path d="M525.80 611.20h5l-2.5-5z" fill="#f00000"/>
<path d="M534.90 608.70h5l-2.5-5z" fill="#f00000"/>
<path d="M544.10 611.20h5l-2.5-5z" fill="#f00000"/>
<path d="M498.30 616.40h5l-2.5-5z" fill="#f00000"/>
<path d="M525.80 616.70h5l-2.5-5z" fill="#f00000"/>
<path d="M507.40 619.80h5l-2.5-5z" fill="#f00000"/>
<path d="M498.30 622.60h5l-2.5-5z" fill="#f00000"/>
<path d="M516.60 622.90h5l-2.5-5z" fill="#f00000"/>
<path d="M534.90 621.90h5l-2.5-5z" fill="#f00000"/>
<path d="M525.80 624.50h5l-2.5-5z" fill="#f00000"/>
<path d="M516.60 628.40h5l-2.5-5z" fill="#f00000"/>
<path d="M507.40 630.80h5l-2.5-5z" fill="#f00000"/>
<path d="M525.80 632.40h5l-2.5-5z" fill="#f00000"/>
<path d="M516.60 635.50h5l-2.5-5z" fill="#f00000"/>
<path d="M507.40 638.80h5l-2.5-5z" fill="#f00000"/>
<path d="M525.80 637.60h5l-2.5-5z" fill="#f00000"/>
<path d="M516.60 643.70h5l-2.5-5z" fill="#f00000"/>
<path d="M525.80 643.40h5l-2.5-5z" fill="#f00000"/>
<path d="M507.40 645.80h5l-2.5-5z" fill="#f00000"/>
<path d="M516.60 657.20h5l-2.5-5z" fill="#f00000"/>
<path d="M521.10 666.00h5l-2.5-5z" fill="#f00000"/>
<path d="M511.90 669.20h5l-2.5-5z" fill="#f00000"/>
<path d="M516.60 674.40h5l-2.5-5z" fill="#f00000"/>
<path d="M516.60 685.70h5l-2.5-5z" fill="#f00000"/>
<path d="M516.60 690.80h5l-2.5-5z" fill="#f00000"/>
<path d="M516.60 697.00h5l-2.5-5z" fill="#f00000"/>
<path d="M511.90 705.50h5l-2.5-5z" fill="#f00000"/>
<path d="M521.10 709.00h5l-2.5-5z" fill="#f00000"/>
<path d="M511.90 712.60h5l-2.5-5z" fill="#f00000"/>
<path d="M516.60 762.30h5l-2.5-5z" fill="#f00000"/>
<path d="M634.40 529.35l2.3 2.15l-2.3 2.15l-2.3-2.15z" fill="#007f00"/>
<path d="M634.40 541.45l2.3 2.15l-2.3 2.15l-2.3-2.15z" fill="#007f00"/>
<path d="M634.40 546.25l2.3 2.15l-2.3 2.15l-2.3-2.15z" fill="#007f00"/>
<path d="M634.40 560.35l2.3 2.15l-2.3 2.15l-2.3-2.15z" fill="#007f00"/>
<path d="M620.50 568.55l2.3 2.15l-2.3 2.15l-2.3-2.15z" fill="#007f00"/>
<path d="M629.70 570.35l2.3 2.15l-2.3 2.15l-2.3-2.15z" fill="#007f00"/>
<path d="M648.10 570.85l2.3 2.15l-2.3 2.15l-2.3-2.15z" fill="#007f00"/>
<path d="M620.50 574.75l2.3 2.15l-2.3 2.15l-2.3-2.15z" fill="#007f00"/>
<path d="M638.90 573.35l2.3 2.15l-2.3 2.15l-2.3-2.15z" fill="#007f00"/>
<path d="M615.90 581.25l2.3 2.15l-2.3 2.15l-2.3-2.15z" fill="#007f00"/>
<path d="M634.40 585.75l2.3 2.15l-2.3 2.15l-2.3-2.15z" fill="#007f00"/>
<path d="M652.40 586.45l2.3 2.15l-2.3 2.15l-2.3-2.15z" fill="#007f00"/>
<path d="M615.90 589.05l2.3 2.15l-2.3 2.15l-2.3-2.15z" fill="#007f00"/>
<path d="M643.60 588.35l2.3 2.15l-2.3 2.15l-2.3-2.15z" fill="#007f00"/>
<path d="M652.40 592.25l2.3 2.15l-2.3 2.15l-2.3-2.15z" fill="#007f00"/>
<path d="M625.20 595.75l2.3 2.15l-2.3 2.15l-2.3-2.15z" fill="#007f00"/>
<path d="M606.70 597.85l2.3 2.15l-2.3 2.15l-2.3-2.15z" fill="#007f00"/>
<path d="M615.90 598.65l2.3 2.15l-2.3 2.15l-2.3-2.15z" fill="#007f00"/>
<path d="M661.60 597.85l2.3 2.15l-2.3 2.15l-2.3-2.15z" fill="#007f00"/>
<path d="M634.40 600.65l2.3 2.15l-2.3 2.15l-2.3-2.15z" fill="#007f00"/>
<path d="M643.60 599.55l2.3 2.15l-2.3 2.15l-2.3-2.15z" fill="#007f00"/>
<path d="M652.40 599.75l2.3 2.15l-2.3 2.15l-2.3-2.15z" fill="#007f00"/>
<path d="M625.20 601.25l2.3 2.15l-2.3 2.15l-2.3-2.15z" fill="#007f00"/>
<path d="M634.40 605.35l2.3 2.15l-2.3 2.15l-2.3-2.15z" fill="#007f00"/>
<path d="M643.60 604.15l2.3 2.15l-2.3 2.15l-2.3-2.15z" fill="#007f00"/>
<path d="M625.20 607.15l2.3 2.15l-2.3 2.15l-2.3-2.15z" fill="#007f00"/>
<path d="M652.40 606.35l2.3 2.15l-2.3 2.15l-2.3-2.15z" fill="#007f00"/>
<path d="M615.90 610.85l2.3 2.15l-2.3 2.15l-2.3-2.15z" fill="#007f00"/>
<path d="M634.40 610.55l2.3 2.15l-2.3 2.15l-2.3-2.15z" fill="#007f00"/>
<path d="M643.60 609.95l2.3 2.15l-2.3 2.15l-2.3-2.15z" fill="#007f00"/>
<path d="M652.40 612.35l2.3 2.15l-2.3 2.15l-2.3-2.15z" fill="#007f00"/>
<path d="M629.70 619.25l2.3 2.15l-2.3 2.15l-2.3-2.15z" fill="#007f00"/>
<path d="M638.90 618.75l2.3 2.15l-2.3 2.15l-2.3-2.15z" fill="#007f00"/>
<path d="M634.40 628.05l2.3 2.15l-2.3 2.15l-2.3-2.15z" fill="#007f00"/>
<path d="M634.40 634.85l2.3 2.15l-2.3 2.15l-2.3-2.15z" fill="#007f00"/>
<path d="M634.40 663.95l2.3 2.15l-2.3 2.15l-2.3-2.15z" fill="#007f00"/>
</svg></body></html>
